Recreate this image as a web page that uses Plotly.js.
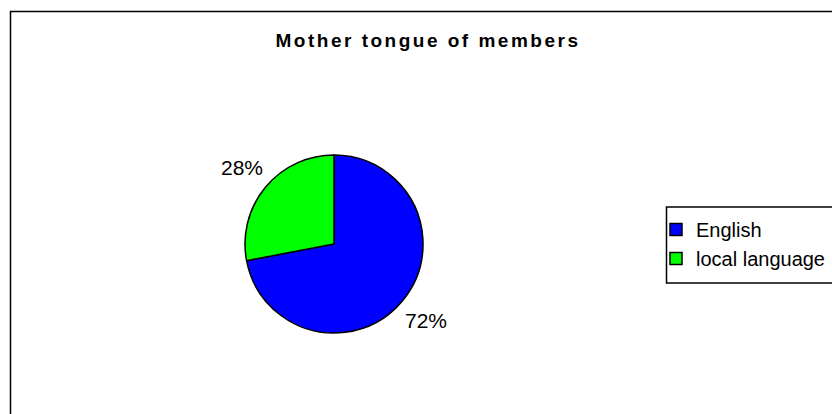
<!DOCTYPE html>
<html>
<head>
<meta charset="utf-8">
<script src="https://cdn.plot.ly/plotly-3.0.1.min.js"></script>
<style>
html,body{margin:0;padding:0;background:#fff;}
#chart{width:832px;height:414px;}
.gtitle{letter-spacing:2.5px;}
</style>
</head>
<body>
<div id="chart"></div>
<script>
var categories = ["English", "local language"];
var values = [72, 28];
var colors = ["#0000FF", "#00FF00"];
var titleText = "Mother tongue of members";

var W = 832, H = 414;
var cx = 334, cy = 244, r = 89;
var labelDist = r + 31;
var FONT = "Liberation Sans, Arial, sans-serif";

var trace = {
  type: "pie",
  labels: categories,
  values: values,
  sort: false,
  direction: "clockwise",
  rotation: 0,
  marker: { colors: colors, line: { color: "#000000", width: 1.5 } },
  textinfo: "none",
  domain: { x: [(cx - r) / W, (cx + r) / W], y: [(H - cy - r) / H, (H - cy + r) / H] },
  hoverinfo: "none",
  automargin: false
};

// percentage labels placed outside each slice, at its mid-angle
var total = values.reduce(function (a, b) { return a + b; }, 0);
var annotations = [];
var cum = 0;
values.forEach(function (v) {
  var th = 2 * Math.PI * (cum + v / 2) / total;
  cum += v;
  var px = cx + labelDist * Math.sin(th);
  var py = cy - labelDist * Math.cos(th);
  annotations.push({
    xref: "paper", yref: "paper",
    x: px / W, y: 1 - py / H,
    xanchor: "center", yanchor: "middle",
    text: Math.round(100 * v / total) + "%",
    showarrow: false,
    font: { family: FONT, size: 21, color: "#000000" }
  });
});

var layout = {
  width: W, height: H,
  margin: { l: 0, r: 0, t: 0, b: 0, autoexpand: false },
  paper_bgcolor: "#ffffff",
  font: { family: FONT, color: "#000000" },
  title: {
    text: "<b>" + titleText + "</b>",
    font: { family: FONT, size: 19, color: "#000000" },
    x: 428 / W, xanchor: "center",
    y: 1 - 40 / H, yanchor: "middle",
    xref: "paper", yref: "paper"
  },
  showlegend: true,
  legend: {
    x: 656 / W, xanchor: "left",
    y: 1 - 210 / H, yanchor: "top",
    bgcolor: "rgba(0,0,0,0)",
    borderwidth: 0,
    font: { family: FONT, size: 20, color: "#000000" },
    tracegroupgap: 0,
    itemwidth: 30
  },
  annotations: annotations,
  shapes: [
    {
      type: "rect", xref: "paper", yref: "paper",
      x0: 10.5 / W, x1: 1.2, y0: -0.2, y1: 1 - 11.5 / H,
      line: { color: "#000000", width: 1.5 }, fillcolor: "rgba(0,0,0,0)", layer: "below"
    },
    {
      type: "rect", xref: "paper", yref: "paper",
      x0: 666.5 / W, x1: 1.2, y0: 1 - 283 / H, y1: 1 - 207 / H,
      line: { color: "#000000", width: 1.5 }, fillcolor: "#ffffff", layer: "below"
    }
  ]
};

Plotly.newPlot("chart", [trace], layout, { staticPlot: true, displayModeBar: false });
</script>
</body>
</html>
